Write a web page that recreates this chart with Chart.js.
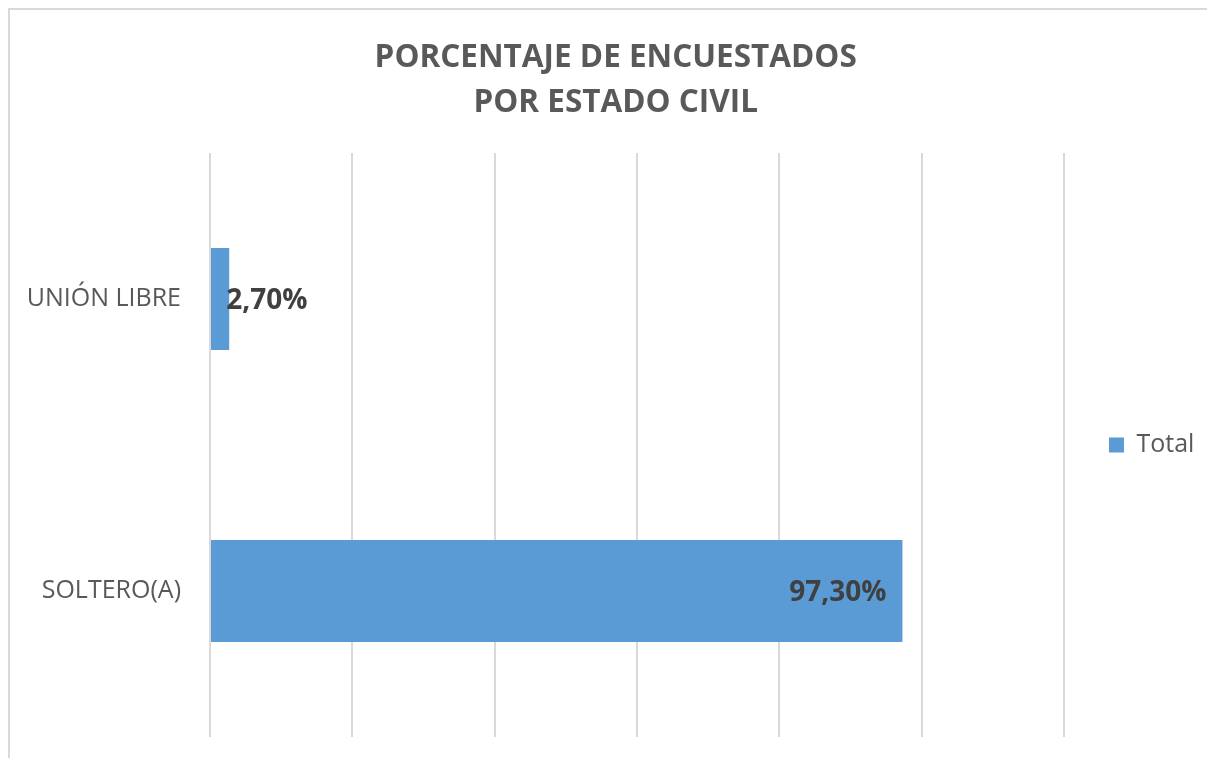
<!DOCTYPE html>
<html>
<head>
<meta charset="utf-8">
<script src="https://cdn.jsdelivr.net/npm/chart.js@4.4.1/dist/chart.umd.min.js"></script>
<style>
  html, body { margin: 0; padding: 0; background: #fff; overflow: hidden; }
  #frame { position: absolute; left: 8px; top: 8px; width: 1220px; height: 780px;
           border-left: 2px solid #d9d9d9; border-top: 2px solid #d9d9d9; }
  #wrap { position: absolute; left: 0; top: 0; width: 1207px; height: 758px; }
</style>
</head>
<body>
<div id="frame"></div>
<div id="wrap"><canvas id="estadoChart"></canvas></div>
<script>
// datos del grafico
const categorias = ['UNIÓN LIBRE', 'SOLTERO(A)'];
const porcentajes = [2.70, 97.30];
const serieNombre = 'Total';
const tituloLineas = ['PORCENTAJE DE ENCUESTADOS', 'POR ESTADO CIVIL'];
const ejeMin = 0;
const ejeMax = 120;
const ejePaso = 20;

const azul = '#5b9bd5';
const gris = '#595959';

// etiquetas de datos al estilo Excel (extremo interno)
const etiquetasPlugin = {
    id: 'etiquetas',
    afterDatasetsDraw(chart) {
        const ctx = chart.ctx;
        const meta = chart.getDatasetMeta(0);
        ctx.save();
        ctx.font = 'bold 28px "Open Sans"';
        ctx.fillStyle = '#404040';
        ctx.textBaseline = 'middle';
        meta.data.forEach((bar, i) => {
            const txt = porcentajes[i].toFixed(2).replace('.', ',') + '%';
            const w = ctx.measureText(txt).width;
            const largo = bar.x - bar.base;
            if (largo > w + 32) {
                ctx.textAlign = 'right';
                ctx.fillText(txt, bar.x - 16, bar.y + 2);
            } else {
                // no cabe dentro: se escribe justo al final de la barra
                ctx.textAlign = 'left';
                ctx.fillText(txt, bar.x - 3, bar.y + 2);
            }
        });
        ctx.restore();
    }
};

const ctx = document.getElementById('estadoChart').getContext('2d');
new Chart(ctx, {
    type: 'bar',
    data: {
        labels: categorias,
        datasets: [{
            label: serieNombre,
            data: porcentajes,
            backgroundColor: azul,
            borderWidth: 0,
            barPercentage: 0.35,
            categoryPercentage: 1
        }]
    },
    options: {
        indexAxis: 'y',
        responsive: true,
        maintainAspectRatio: false,
        animation: false,
        layout: { autoPadding: false, padding: { left: 27, right: 2.6, top: 0, bottom: 21 } },
        plugins: {
            title: {
                display: true,
                text: tituloLineas,
                color: gris,
                font: { family: '"Open Sans"', size: 31.5, weight: 'bold', lineHeight: 45 / 31.5 },
                padding: { top: 36, bottom: 27 }
            },
            legend: {
                position: 'right',
                fullSize: false,
                maxWidth: 143,
                labels: {
                    color: gris,
                    font: { family: '"Open Sans"', size: 25 },
                    boxWidth: 15,
                    boxHeight: 15,
                    padding: 45
                }
            },
            tooltip: { enabled: false }
        },
        scales: {
            x: {
                min: ejeMin,
                max: ejeMax,
                ticks: { display: false, stepSize: ejePaso },
                grid: { color: '#d9d9d9', lineWidth: 2, drawTicks: false },
                border: { display: false }
            },
            y: {
                ticks: {
                    color: gris,
                    font: { family: '"Open Sans"', size: 25 },
                    padding: 29
                },
                grid: { display: false, drawTicks: false },
                border: { display: false },
                afterFit(scale) {
                    // ancho fijo del eje y sin relleno extra arriba/abajo
                    scale.width = 183;
                    scale.paddingTop = 0;
                    scale.paddingBottom = 0;
                }
            }
        }
    },
    plugins: [etiquetasPlugin]
});
</script>
</body>
</html>
